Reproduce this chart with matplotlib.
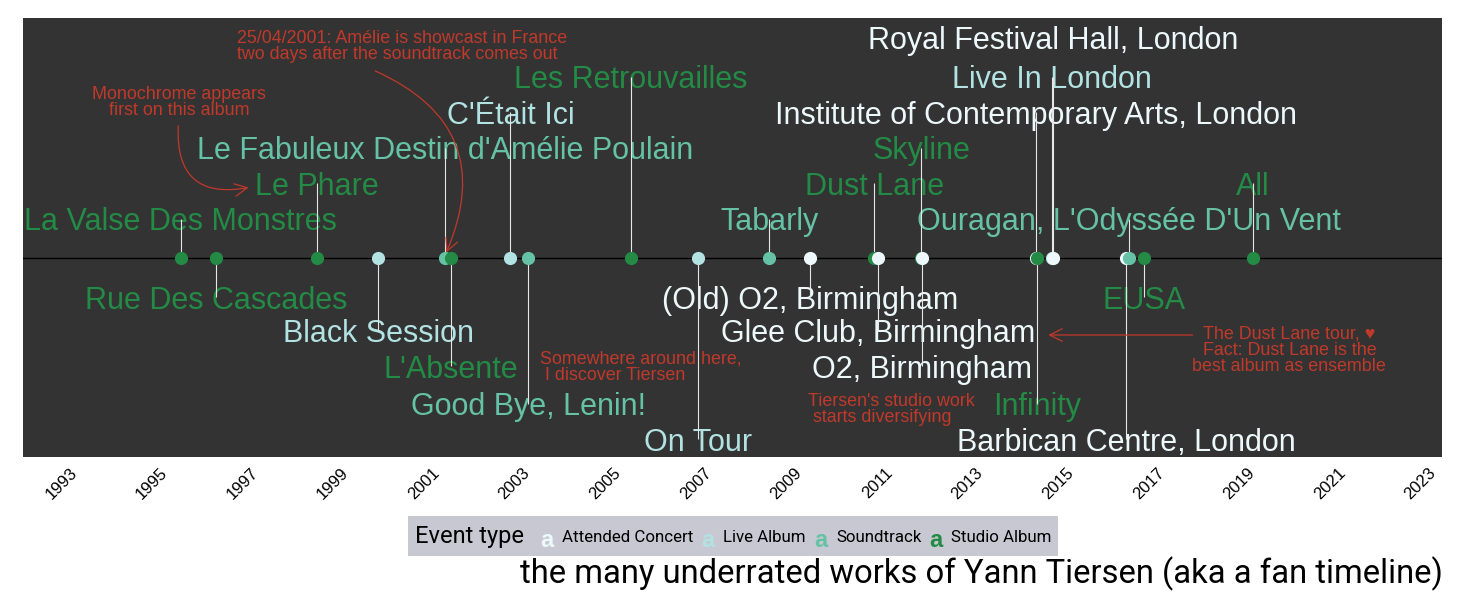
import matplotlib
matplotlib.use('Agg')
import matplotlib.pyplot as plt
from matplotlib.patches import FancyArrowPatch, Rectangle
import numpy as np

# timeline data (dates as decimal years)
events = ['La Valse Des Monstres', 'Rue Des Cascades', 'Le Phare', 'Black Session',
          "Le Fabuleux Destin d'Amélie Poulain", "L'Absente", "C'Était Ici",
          'Good Bye, Lenin!', 'Les Retrouvailles', 'On Tour', 'Tabarly',
          '(Old) O2, Birmingham', 'Dust Lane', 'Glee Club, Birmingham', 'Skyline',
          'O2, Birmingham', 'Institute of Contemporary Arts, London', 'Infinity',
          'Live In London', 'Royal Festival Hall, London', 'Barbican Centre, London',
          "Ouragan, L'Odyssée D'Un Vent", 'EUSA', 'All']
dates = [1995.46, 1996.25, 1998.46, 1999.82, 2001.30, 2001.42, 2002.74, 2003.13,
         2005.39, 2006.87, 2008.45, 2009.35, 2010.77, 2010.85, 2011.81, 2011.82,
         2014.33, 2014.37, 2014.70, 2014.72, 2016.33, 2016.40, 2016.73, 2019.13]
kinds = ['Studio Album', 'Studio Album', 'Studio Album', 'Live Album', 'Soundtrack',
         'Studio Album', 'Live Album', 'Soundtrack', 'Studio Album', 'Live Album',
         'Soundtrack', 'Attended Concert', 'Studio Album', 'Attended Concert',
         'Studio Album', 'Attended Concert', 'Attended Concert', 'Studio Album',
         'Live Album', 'Attended Concert', 'Attended Concert', 'Soundtrack',
         'Studio Album', 'Studio Album']
levels = [1.1, -1.1, 2.1, -2.05, 3.1, -3.05, 4.1, -4.1, 5.1, -5.1, 1.1, -1.1, 2.1,
          -2.05, 3.1, -3.05, 4.1, -4.1, 5.1, 6.2, -5.1, 1.1, -1.1, 2.1]

kind_names = ['Attended Concert', 'Live Album', 'Soundtrack', 'Studio Album']
kind_colors = ['#edf8fb', '#b2e2e2', '#66c2a4', '#238b45']   # BuGn
palette = dict(zip(kind_names, kind_colors))

years = np.arange(1993, 2024, 2)

red = '#c0392b'
lab_font = ['Liberation Sans', 'DejaVu Sans']

fig = plt.figure(figsize=(14.63, 6.06), dpi=100)
ax = fig.add_axes([23 / 1463, 149 / 606, 1419 / 1463, 439 / 606])
ax.set_facecolor('#333333')
ax.set_xlim(1991.98, 2023.3)
ax.set_ylim(-5.606, 6.76)

ax.axhline(0, color='black', lw=1.0, zorder=2)

# labels first, stems drawn over them
for name, d, k, lv in zip(events, dates, kinds, levels):
    ax.text(d, lv, name, color=palette[k], fontsize=22, family=lab_font,
            ha='center', va='center_baseline', zorder=3)

# Royal Festival Hall shares the Live In London stem
stem_top = np.clip(levels, -5.1, 5.1)
ax.vlines(dates, 0, stem_top, color='#e6e6e6', lw=0.8, zorder=4)

for d, k in zip(dates, kinds):
    ax.scatter(d, 0, s=90, color=palette[k], zorder=5, linewidths=0)

# annotations
note_kw = dict(color=red, fontsize=12.9, family=lab_font, va='center', linespacing=0.95, zorder=6)
ax.text(1996.71, 5.96, '25/04/2001: Amélie is showcast in France\ntwo days after the soundtrack comes out',
        ha='left', **note_kw)
ax.text(1995.43, 4.38, 'Monochrome appears\nfirst on this album', ha='center',
        multialignment='center', **note_kw)
ax.text(2003.40, -3.08, 'Somewhere around here,\n I discover Tiersen', ha='left', **note_kw)
ax.text(2009.31, -4.27, "Tiersen's studio work\n starts diversifying", ha='left', **note_kw)
ax.text(2019.93, -2.61, 'The Dust Lane tour, \u2665\nFact: Dust Lane is the\nbest album as ensemble',
        ha='center', multialignment='center', **note_kw)

arrow_kw = dict(arrowstyle='->,head_length=0.5,head_width=0.25', mutation_scale=18,
                color=red, lw=0.9, zorder=6)
ax.add_patch(FancyArrowPatch((1999.70, 5.30), (2001.30, 0.085),
                             connectionstyle='arc3,rad=-0.5', **arrow_kw))
ax.add_patch(FancyArrowPatch((1995.41, 3.80), (1997.02, 2.0),
                             connectionstyle='arc3,rad=0.65', **arrow_kw))
ax.add_patch(FancyArrowPatch((2017.86, -2.17), (2014.55, -2.17),
                             connectionstyle='arc3,rad=0', **arrow_kw))

ax.set_xticks(years)
ax.set_xticklabels([str(y) for y in years], rotation=45, ha='right', va='top',
                   rotation_mode='anchor', fontsize=12, family=lab_font)
ax.tick_params(axis='x', length=0, pad=6)
ax.set_yticks([])
for s in ax.spines.values():
    s.set_visible(False)

# legend bar
fig.patches.append(Rectangle((408 / 1463, 1 - 556 / 606), 650 / 1463, 40 / 606,
                             transform=fig.transFigure, facecolor='#c8c8d2',
                             edgecolor='none', zorder=0))
ly = 1 - 537 / 606
fig.text(415 / 1463, ly, 'Event type', family='Roboto', fontsize=17, ha='left', va='center')
label_x = [562, 723, 836, 951]
for name, col, lx in zip(kind_names, kind_colors, label_x):
    fig.text((lx - 15) / 1463, ly - 0.006, 'a', color=col, family=lab_font, fontsize=17,
             fontweight='bold', ha='center', va='center')
    fig.text(lx / 1463, ly, name, family='Roboto', fontsize=12.2, ha='left', va='center')

fig.text(1443 / 1463, 1 - 574 / 606, 'the many underrated works of Yann Tiersen (aka a fan timeline)',
         family='Roboto', fontsize=23.6, ha='right', va='center')

fig.savefig('out.png', dpi=100, facecolor='white')
